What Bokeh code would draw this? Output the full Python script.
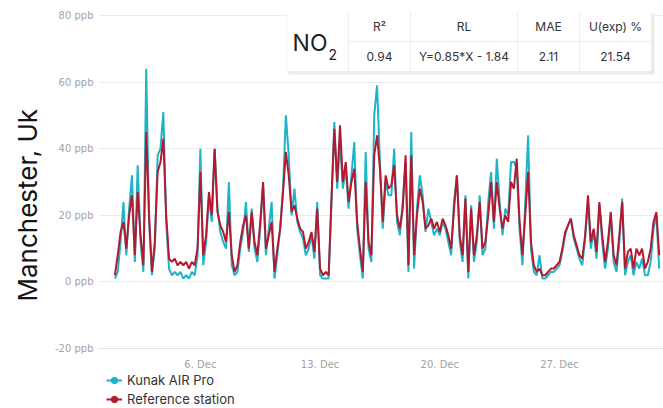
import pandas as pd
from bokeh.plotting import figure
from bokeh.layouts import column
from bokeh.models import (Range1d, FixedTicker, PrintfTickFormatter, BoxAnnotation,
                          Label, Legend, LegendItem, ColumnDataSource, Title)
from bokeh.embed import file_html
from bokeh.resources import INLINE

# ---------------- data ----------------
series_start = "2021-12-01 00:00"
series_step = "4h"

kunak = [
    1, 3, 12, 24, 8, 22,
    32, 6, 35, 12, 3, 64,
    18, 2, 10, 38, 40, 51,
    18, 4, 2, 3, 2, 3,
    1, 2, 1, 3, 2, 8,
    40, 5, 12, 25, 18, 40,
    22, 15, 12, 10, 30, 5,
    2, 3, 10, 15, 24, 9,
    22, 10, 6, 16, 29, 8,
    16, 24, 1, 8, 16, 28,
    50, 38, 20, 28, 18, 15,
    13, 8, 10, 14, 7, 24,
    2, 1, 1, 1, 24, 48,
    28, 42, 28, 34, 22, 32,
    42, 16, 8, 1, 39, 10,
    6, 50, 59, 36, 16, 30,
    26, 26, 40, 18, 14, 24,
    36, 3, 45, 4, 22, 32,
    26, 15, 22, 18, 14, 16,
    14, 18, 16, 12, 8, 24,
    32, 12, 6, 26, 1, 23,
    6, 12, 26, 8, 10, 24,
    33, 16, 37, 24, 14, 22,
    20, 36, 36, 34, 16, 5,
    24, 44, 10, 3, 2, 8,
    1, 1, 2, 3, 3, 4,
    5, 9, 14, 17, 19, 13,
    10, 7, 5, 13, 24, 10,
    15, 7, 23, 12, 4, 10,
    20, 6, 3, 12, 25, 2,
    6, 8, 2, 6, 4, 7,
    2, 2, 6, 16, 20, 4,
]

reference = [
    2, 8, 15, 18, 10, 20,
    26, 8, 27, 14, 5, 45,
    20, 3, 12, 33, 36, 43,
    20, 7, 6, 7, 5, 6,
    5, 6, 4, 6, 5, 10,
    33, 8, 14, 27, 20, 40,
    21, 17, 15, 12, 21, 8,
    3, 5, 12, 17, 20, 10,
    21, 12, 8, 18, 30, 10,
    14, 18, 3, 10, 16, 27,
    39, 32, 21, 23, 19, 16,
    15, 10, 12, 15, 9, 22,
    4, 2, 3, 2, 25, 46,
    30, 47, 30, 36, 24, 30,
    34, 18, 10, 3, 30, 12,
    8, 38, 44, 34, 18, 32,
    28, 29, 35, 20, 16, 22,
    38, 5, 38, 8, 20, 28,
    24, 16, 17, 19, 16, 18,
    15, 19, 17, 14, 10, 22,
    32, 14, 8, 25, 3, 22,
    8, 14, 24, 10, 12, 20,
    30, 18, 30, 22, 16, 20,
    18, 30, 28, 37, 18, 8,
    20, 33, 12, 5, 3, 4,
    2, 2, 3, 4, 4, 5,
    6, 10, 15, 17, 19, 14,
    11, 8, 7, 14, 26, 12,
    16, 9, 24, 14, 6, 12,
    21, 8, 5, 14, 24, 4,
    9, 10, 4, 10, 8, 10,
    4, 6, 10, 18, 21, 8,
]

series_names = ["Kunak AIR Pro", "Reference station"]
site_name = "Manchester, Uk"

y_ticks = [-20, 0, 20, 40, 60, 80]
x_tick_dates = ["2021-12-06", "2021-12-13", "2021-12-20", "2021-12-27"]
x_tick_labels = ["6. Dec", "13. Dec", "20. Dec", "27. Dec"]

pollutant = "NO"
pollutant_sub = "2"
table_headers = ["R\u00b2", "RL", "MAE", "U(exp) %"]
table_values = ["0.94", "Y=0.85*X - 1.84", "2.11", "21.54"]

# ---------------- styling ----------------
CYAN = "#1db4c8"
RED = "#b5192f"
FONT = "Inter"
TICK_FONT = "DejaVu Sans"

W = 663
H1, H2 = 372, 36                 # chart figure + legend strip
BL, BR, BT, BB = 98, 0, 12, 23   # borders -> frame
FRAME_BOTTOM = H1 - BB           # canvas px (349)

times = pd.date_range(series_start, periods=len(reference), freq=series_step)

p = figure(width=W, height=H1, x_axis_type="datetime",
           x_range=Range1d(pd.Timestamp("2021-11-30 01:00"), pd.Timestamp("2022-01-02 02:00")),
           y_range=Range1d(-20, 80.9),
           output_backend="svg", toolbar_location=None,
           min_border_left=BL, min_border_right=BR, min_border_top=BT, min_border_bottom=BB)
p.outline_line_color = None
p.background_fill_color = "white"
p.border_fill_color = "white"

src = ColumnDataSource(dict(t=times, kunak=kunak, reference=reference))
p.line("t", "kunak", source=src, line_color=CYAN, line_width=2)
p.line("t", "reference", source=src, line_color=RED, line_width=2)

# axes
yax = p.yaxis[0]
yax.ticker = FixedTicker(ticks=y_ticks)
yax.formatter = PrintfTickFormatter(format="%d ppb")
yax.axis_line_color = None
yax.major_tick_line_color = None
yax.minor_tick_line_color = None
yax.major_tick_out = 0
yax.major_tick_in = 0
yax.major_label_standoff = 5
yax.major_label_text_font = TICK_FONT
yax.major_label_text_font_size = "10px"
yax.major_label_text_color = "#a3a3a3"

tick_ms = [int(pd.Timestamp(d).value // 10**6) for d in x_tick_dates]
xax = p.xaxis[0]
xax.ticker = FixedTicker(ticks=tick_ms)
xax.major_label_overrides = {t: lab for t, lab in zip(tick_ms, x_tick_labels)}
xax.axis_line_color = "#e3e3e3"
xax.major_tick_line_color = None
xax.minor_tick_line_color = None
xax.major_tick_out = 0
xax.major_tick_in = 0
xax.major_label_standoff = 10
xax.major_label_text_font = TICK_FONT
xax.major_label_text_font_size = "10px"
xax.major_label_text_color = "#a3a3a3"

p.xgrid.grid_line_color = None
p.ygrid.ticker = FixedTicker(ticks=y_ticks)
p.ygrid.grid_line_color = "#ebebeb"

# site name, rotated on the left (starts near page y 302, reads upward)
p.add_layout(Title(text=site_name, align="left", offset=FRAME_BOTTOM - 302,
                   text_font=FONT, text_font_size="26px", text_font_style="normal",
                   text_color="#151515", standoff=18), "left")

# stats table (screen units, relative to frame)
def sx(page_x):
    return page_x - BL

def sy(page_y):
    return FRAME_BOTTOM - page_y

tl, tr, ttop, tmid, tbot = 286, 651, 12, 42, 72
cols = [348, 410, 517, 579, 651]

def box(l, r, t, b, **kw):
    return BoxAnnotation(left=sx(l), right=sx(r), top=sy(t), bottom=sy(b),
                         left_units="screen", right_units="screen",
                         top_units="screen", bottom_units="screen", **kw)

p.add_layout(box(tl + 2, tr + 3, ttop + 2, tbot + 3, fill_color="#ececec", fill_alpha=1, line_alpha=0))
p.add_layout(box(tl, cols[0], ttop, tbot, fill_color="white", fill_alpha=1,
                 line_color="#d6d6d6", line_width=1))
for i in range(4):
    for (a, b) in [(ttop, tmid), (tmid, tbot)]:
        p.add_layout(box(cols[i], cols[i + 1], a, b, fill_color="white", fill_alpha=1,
                         line_color="#d6d6d6", line_width=1))
    cx = (cols[i] + cols[i + 1]) / 2
    p.add_layout(Label(x=sx(cx), y=sy((ttop + tmid) / 2), x_units="screen", y_units="screen",
                       text=table_headers[i], text_align="center", text_baseline="middle",
                       text_font=FONT, text_font_size="12px", text_color="#333333"))
    p.add_layout(Label(x=sx(cx), y=sy((tmid + tbot) / 2), x_units="screen", y_units="screen",
                       text=table_values[i], text_align="center", text_baseline="middle",
                       text_font=FONT, text_font_size="12px", text_color="#333333"))

p.add_layout(Label(x=sx(327), y=sy(43), x_units="screen", y_units="screen",
                   text=pollutant, text_align="right", text_baseline="middle",
                   text_font=FONT, text_font_size="23px", text_color="#222222"))
p.add_layout(Label(x=sx(328), y=sy(55), x_units="screen", y_units="screen",
                   text=pollutant_sub, text_align="left", text_baseline="middle",
                   text_font=FONT, text_font_size="14px", text_color="#222222"))

# ---------------- legend strip (frame aligned with the chart's frame) ----------------
p2 = figure(width=W, height=H2, x_range=Range1d(0, 1), y_range=Range1d(0, 1),
            x_axis_location=None, y_axis_location=None,
            output_backend="svg", toolbar_location=None,
            min_border_left=0, min_border_right=0, min_border_top=0, min_border_bottom=0)
p2.outline_line_color = None
p2.grid.visible = False
p2.background_fill_color = "white"
p2.border_fill_color = "white"

# the series, drawn far outside this strip's ranges, only to feed the legend glyphs
lk = p2.line("t", "kunak", source=src, line_color=CYAN, line_width=2)
mk = p2.scatter("t", "kunak", source=src, size=8, fill_color=CYAN, line_color=CYAN)
lr = p2.line("t", "reference", source=src, line_color=RED, line_width=2)
mr = p2.scatter("t", "reference", source=src, size=8, fill_color=RED, line_color=RED)

legend = Legend(items=[LegendItem(label=series_names[0], renderers=[lk, mk]),
                       LegendItem(label=series_names[1], renderers=[lr, mr])],
                location=(8, 1), orientation="vertical",
                label_text_font=FONT, label_text_font_size="13px", label_text_color="#333333",
                glyph_width=16, glyph_height=16, label_height=16, spacing=3,
                padding=0, margin=0, label_standoff=5,
                background_fill_alpha=0, border_line_alpha=0)
p2.add_layout(legend)

layout = column(p, p2, spacing=0)
open("out.html", "w").write(file_html(layout, INLINE))
